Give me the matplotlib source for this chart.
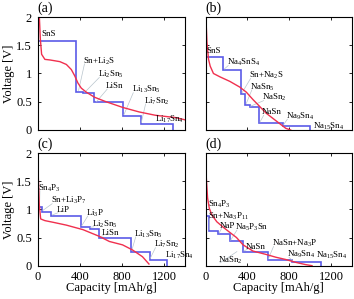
import matplotlib
matplotlib.use("Agg")
import matplotlib.pyplot as plt

plt.rcParams['font.family'] = ['Liberation Serif', 'DejaVu Serif']
plt.rcParams['mathtext.fontset'] = 'custom'
plt.rcParams['mathtext.rm'] = 'Liberation Serif'
plt.rcParams['mathtext.it'] = 'Liberation Serif'
plt.rcParams['mathtext.default'] = 'regular'

# ---------------- data ----------------
# (a) SnS / Li
a_step_cap = [0, 368, 431, 541, 814, 980, 1288]
a_step_v = [1.58, 0.68, 0.66, 0.49, 0.25, 0.11]
a_red_cap = [0, 18, 27, 39, 70, 117, 212, 274, 321, 353, 384, 416, 463, 541, 651, 808, 964, 1121, 1309, 1400]
a_red_v = [2.05, 1.98, 1.61, 1.34, 1.25, 1.24, 1.21, 1.16, 1.07, 0.96, 0.83, 0.74, 0.67, 0.58, 0.50, 0.40, 0.32, 0.26, 0.22, 0.18]

# (b) SnS / Na
b_step_cap = [0, 171, 343, 381, 422, 516, 742, 1002]
b_step_v = [1.30, 1.06, 0.64, 0.45, 0.40, 0.12, 0.07]
b_red_cap = [0, 6, 14, 29, 45, 76, 139, 233, 327, 390, 453, 516, 578, 641, 704, 767, 814]
b_red_v = [2.05, 1.90, 1.55, 1.25, 1.13, 1.00, 0.94, 0.86, 0.76, 0.67, 0.54, 0.42, 0.30, 0.21, 0.12, 0.03, 0.0]

# (c) Sn4P3 / Li
c_step_cap = [0, 39, 124, 409, 494, 588, 892, 1065, 1225]
c_step_v = [1.05, 0.96, 0.88, 0.69, 0.66, 0.50, 0.25, 0.11]
c_red_cap = [0, 8, 17, 30, 70, 149, 274, 431, 588, 682, 807, 901, 996, 1058]
c_red_v = [2.05, 1.55, 1.08, 0.83, 0.80, 0.77, 0.72, 0.64, 0.52, 0.43, 0.37, 0.28, 0.16, 0.03]

# (d) Sn4P3 / Na
d_step_cap = [0, 30, 124, 234, 359, 594, 829, 1101]
d_step_v = [0.89, 0.62, 0.56, 0.43, 0.24, 0.10, 0.06]
d_red_cap = [0, 8, 20, 36, 61, 108, 171, 233, 296, 359, 453, 579, 673, 767, 861, 955, 1018]
d_red_v = [1.97, 1.55, 1.20, 1.02, 0.90, 0.78, 0.68, 0.59, 0.50, 0.37, 0.26, 0.20, 0.15, 0.11, 0.06, 0.02, 0.0]

x_ticks = [0, 400, 800, 1200]
x_ticklabels = ['0', '400', '800', '1200']
y_ticks = [0, 0.5, 1.0, 1.5, 2.0]
y_ticklabels = ['0', '0.5', '1', '1.5', '2']

# phase labels: text, (label x, label y), leader target or None
a_labels = [("SnS", (40, 1.70), None),
            (r"Sn+Li$_2$S", (431, 1.22), (390, 0.70)),
            (r"Li$_2$Sn$_5$", (572, 0.98), (450, 0.67)),
            (r"LiSn", (645, 0.77), (560, 0.50)),
            (r"Li$_{13}$Sn$_5$", (894, 0.71), (820, 0.27)),
            (r"Li$_7$Sn$_2$", (1011, 0.51), (985, 0.13)),
            (r"Li$_{17}$Sn$_4$", (1115, 0.19), None)]
b_labels = [("SnS", (8, 1.40), None),
            (r"Na$_4$SnS$_4$", (202, 1.19), (180, 1.08)),
            (r"Sn+Na$_2$S", (415, 0.96), (350, 0.66)),
            (r"NaSn$_5$", (428, 0.76), (390, 0.47)),
            (r"NaSn$_2$", (541, 0.57), (430, 0.42)),
            (r"NaSn", (541, 0.31), (520, 0.14)),
            (r"Na$_9$Sn$_4$", (767, 0.24), (745, 0.09)),
            (r"Na$_{15}$Sn$_4$", (1024, 0.07), None)]
c_labels = [(r"Sn$_4$P$_3$", (8, 1.38), (20, 1.07)),
            (r"Sn+Li$_3$P$_7$", (124, 1.15), (50, 0.98)),
            (r"LiP", (180, 0.99), (140, 0.90)),
            (r"Li$_3$P", (462, 0.93), (420, 0.71)),
            (r"Li$_2$Sn$_5$", (519, 0.74), (500, 0.68)),
            (r"LiSn", (610, 0.58), (600, 0.52)),
            (r"Li$_{13}$Sn$_5$", (917, 0.56), (895, 0.27)),
            (r"Li$_7$Sn$_2$", (1105, 0.37), (1070, 0.13)),
            (r"Li$_{17}$Sn$_4$", (1209, 0.19), None)]
d_labels = [(r"Sn$_4$P$_3$", (21, 1.08), None),
            (r"Sn+Na$_3$P$_{11}$", (21, 0.88), (40, 0.64)),
            (r"NaP", (139, 0.71), (130, 0.58)),
            (r"Na$_5$P$_3$Sn", (285, 0.68), (240, 0.45)),
            (r"NaSn", (384, 0.34), (365, 0.26)),
            (r"NaSn+Na$_3$P", (635, 0.39), (600, 0.12)),
            (r"Na$_9$Sn$_4$", (783, 0.20), (835, 0.08)),
            (r"Na$_{15}$Sn$_4$", (1057, 0.18), None),
            (r"NaSn$_2$", (124, 0.10), (300, 0.25))]

BLUE = '#5b5be8'
RED = '#f0304e'
GREY = '#b8c4cc'

W, H = 354, 299
fig = plt.figure(figsize=(W / 100, H / 100), dpi=100)

def rect(x0, y0, x1, y1):
    return [x0 / W, 1 - y1 / H, (x1 - x0) / W, (y1 - y0) / H]

panels = [
    ('(a)', rect(37.5, 17, 185, 130), a_step_cap, a_step_v, a_red_cap, a_red_v, a_labels, True, False),
    ('(b)', rect(205.5, 17, 352, 130), b_step_cap, b_step_v, b_red_cap, b_red_v, b_labels, False, False),
    ('(c)', rect(37.5, 153, 185, 265.7), c_step_cap, c_step_v, c_red_cap, c_red_v, c_labels, True, True),
    ('(d)', rect(205.5, 153, 352, 265.7), d_step_cap, d_step_v, d_red_cap, d_red_v, d_labels, False, True),
]

for name, pos, scap, sv, rcap, rv, labels, left, bottom in panels:
    ax = fig.add_axes(pos)
    ax.stairs(sv, scap, color=BLUE, lw=1.2, baseline=0, fill=False)
    ax.plot(rcap, rv, color=RED, lw=1.0, clip_on=True)
    for txt, (tx, ty), tgt in labels:
        if tgt is not None:
            ax.plot([tx + 15, tgt[0]], [ty - 0.05, tgt[1]], color=GREY, lw=0.5, zorder=1)
        ax.text(tx, ty, txt, fontsize=6.4, ha='left', va='center', zorder=5, clip_on=False)
    ax.set_xlim(0, 1400)
    ax.set_ylim(0, 2)
    ax.set_xticks(x_ticks)
    ax.set_yticks(y_ticks)
    ax.tick_params(direction='in', length=2.5, width=0.6, top=True, right=True,
                   labelsize=9, pad=4)
    if left:
        ax.set_yticklabels(y_ticklabels)
        ax.set_ylabel('Voltage [V]', fontsize=9, labelpad=1)
    else:
        ax.set_yticklabels([])
    if bottom:
        ax.set_xticklabels(x_ticklabels)
        ax.set_xlabel('Capacity [mAh/g]', fontsize=9, labelpad=-1)
    else:
        ax.set_xticklabels([])
    for s in ax.spines.values():
        s.set_linewidth(0.8)
    ax.text(0.0, 1.02, name, transform=ax.transAxes, fontsize=10, ha='left', va='bottom')

fig.savefig('out.png', dpi=100)
